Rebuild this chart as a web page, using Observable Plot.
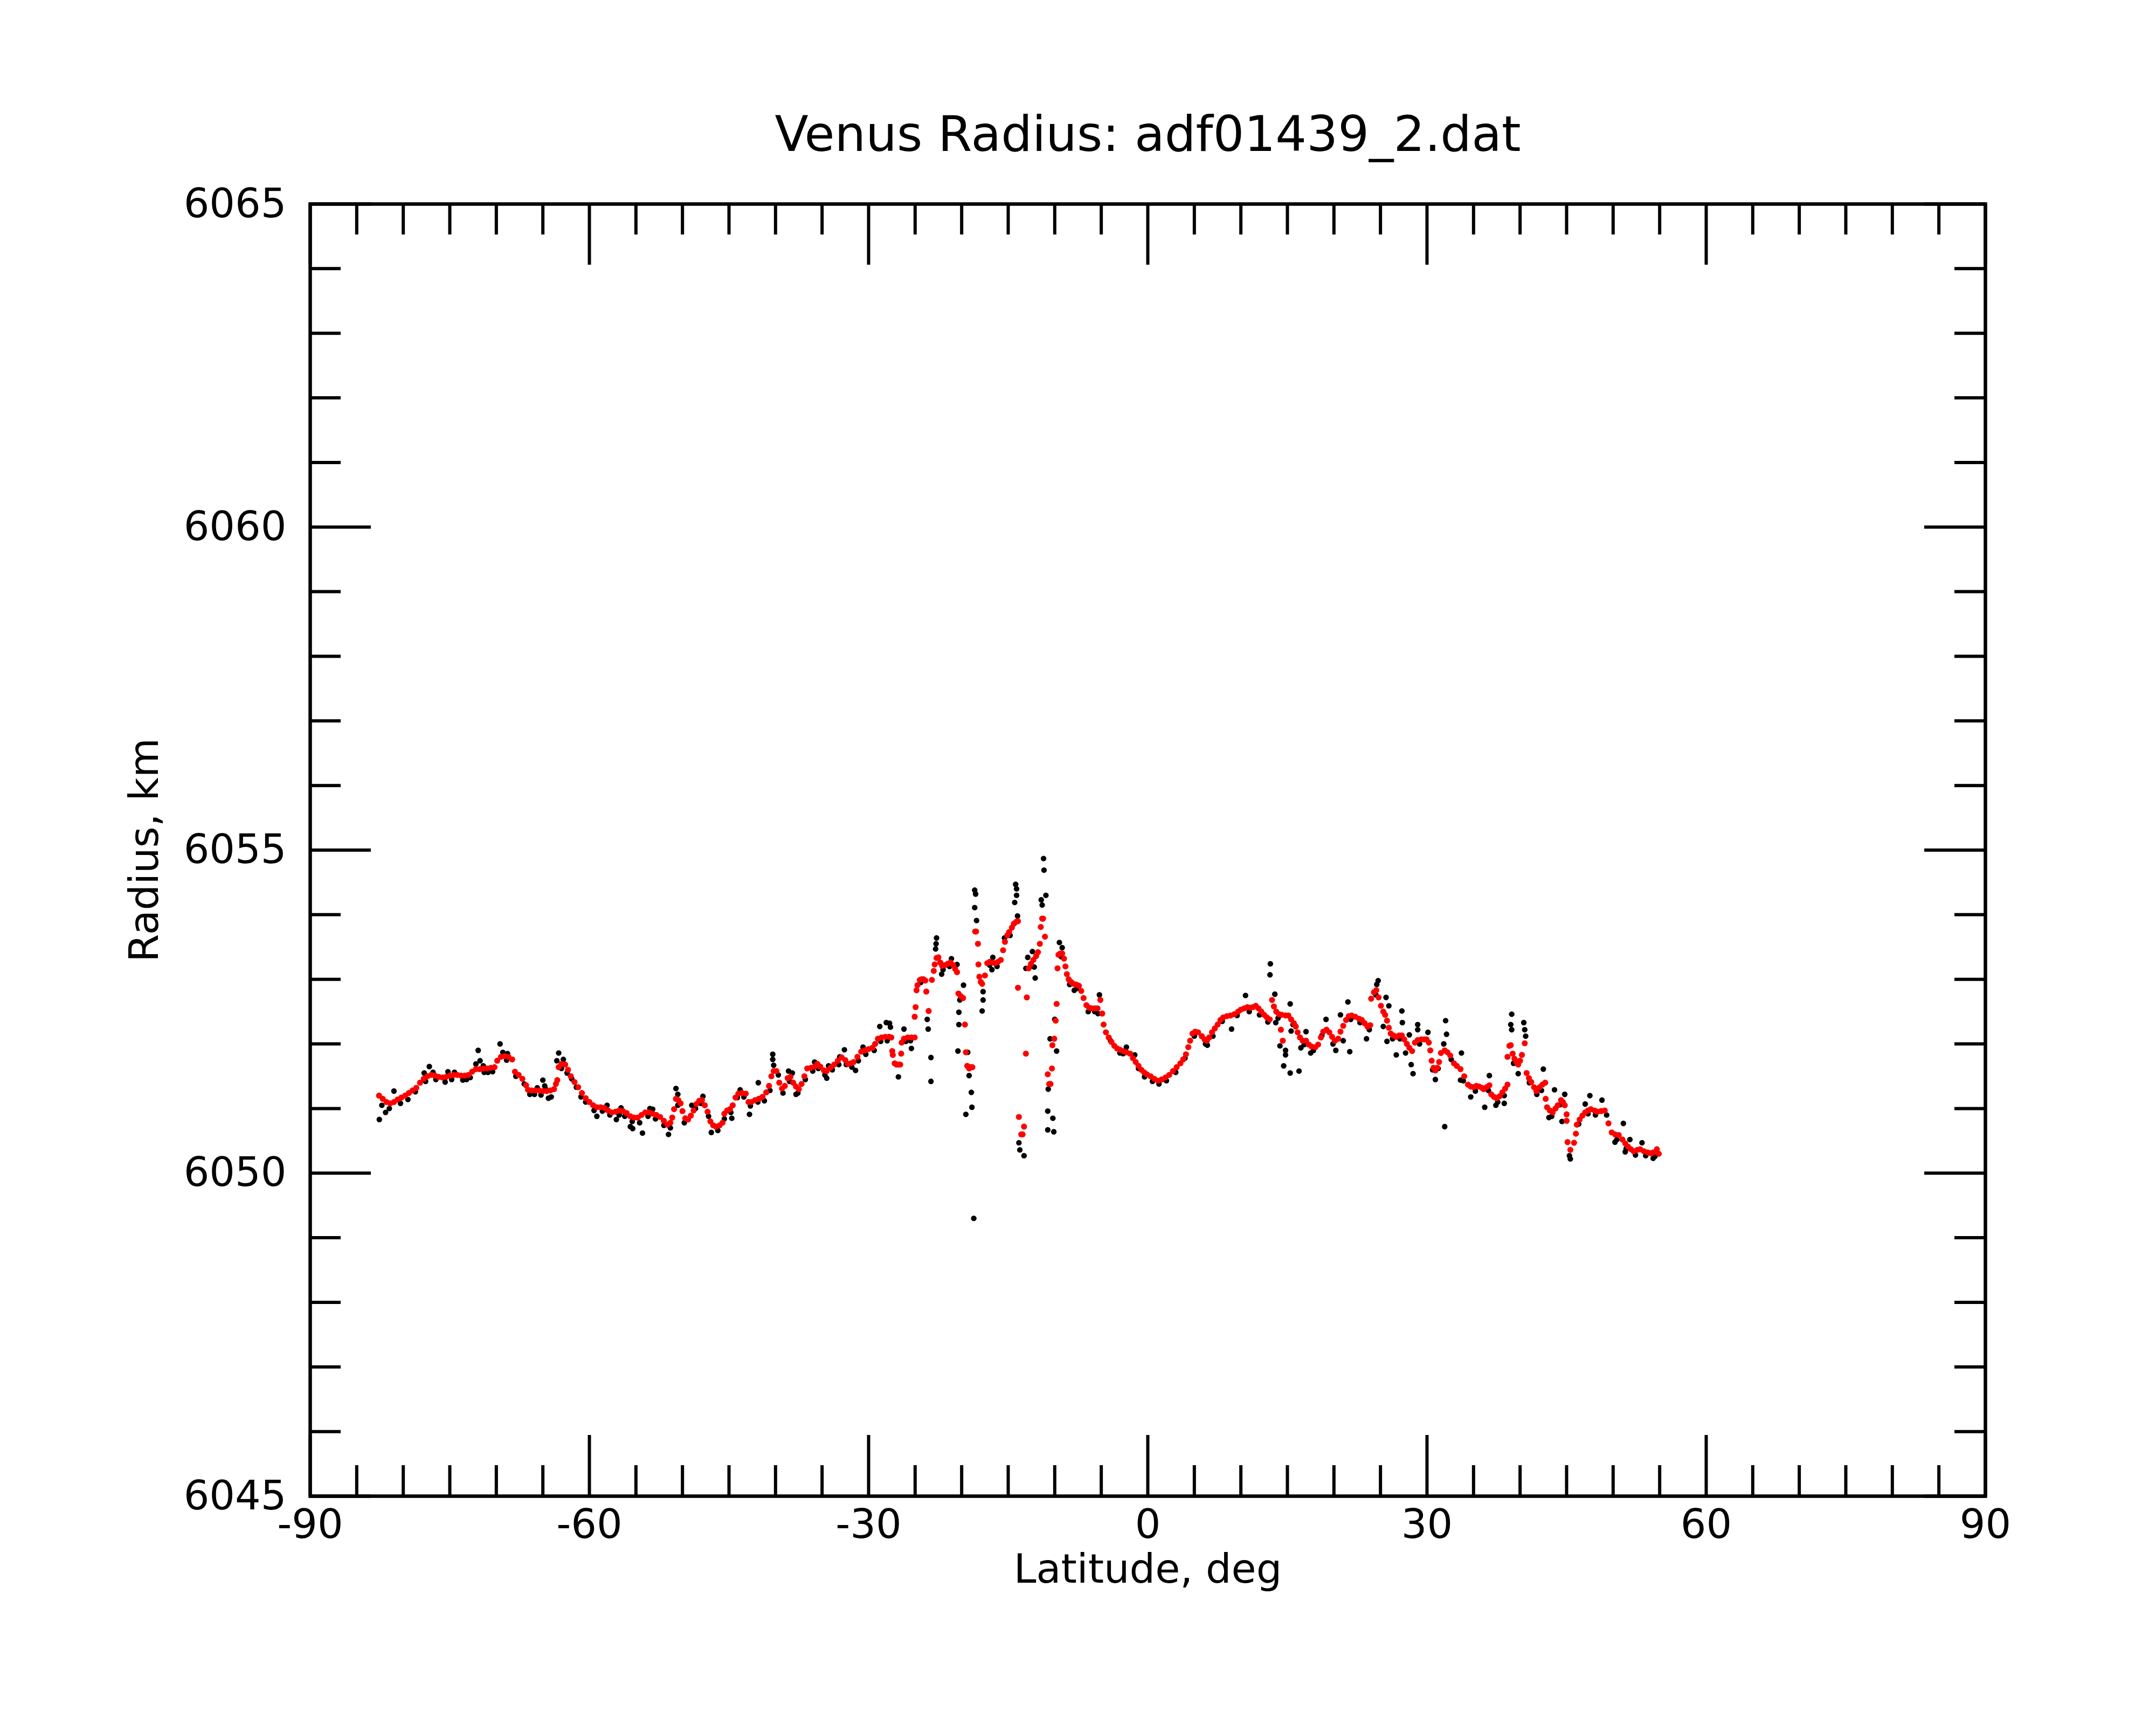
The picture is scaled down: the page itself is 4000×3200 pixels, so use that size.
<!DOCTYPE html>
<html>
<head>
<meta charset="utf-8">
<script src="https://cdn.jsdelivr.net/npm/d3@7"></script>
<script src="https://cdn.jsdelivr.net/npm/@observablehq/plot@0.6"></script>
<style>
  html, body { margin: 0; padding: 0; background: #ffffff; }
  #chart { width: 4000px; height: 3200px; }
</style>
</head>
<body>
<div id="chart"></div>
<script>
// ---- Text ----
const titleText = "Venus Radius: adf01439_2.dat";
const xLabelText = "Latitude, deg";
const yLabelText = "Radius, km";

// ---- Ticks ----
const xMajorTicks = [-90, -60, -30, 0, 30, 60, 90];
const xMinorTicks = [-85, -80, -75, -70, -65, -55, -50, -45, -40, -35, -25, -20, -15, -10, -5, 5, 10, 15, 20, 25, 35, 40, 45, 50, 55, 65, 70, 75, 80, 85];
const yMajorTicks = [6045, 6050, 6055, 6060, 6065];
const yMinorTicks = [6046, 6047, 6048, 6049, 6051, 6052, 6053, 6054, 6056, 6057, 6058, 6059, 6061, 6062, 6063, 6064];

// ---- Smoothed profile (red), [latitude deg, radius km] ----
const redPoints = [
[-82.6,6051.20],[-82.2,6051.15],[-81.8,6051.10],[-81.4,6051.08],[-81.0,6051.10],[-80.6,6051.14],[-80.2,6051.17],[-79.8,6051.20],
[-79.4,6051.24],[-79.0,6051.28],[-78.6,6051.32],[-78.2,6051.40],[-77.8,6051.46],[-77.4,6051.50],[-77.0,6051.52],[-76.6,6051.51],
[-76.2,6051.49],[-75.8,6051.48],[-75.4,6051.49],[-75.0,6051.51],[-74.6,6051.52],[-74.2,6051.52],[-73.8,6051.51],[-73.4,6051.51],
[-73.0,6051.52],[-72.6,6051.57],[-72.2,6051.61],[-71.8,6051.61],[-71.4,6051.62],[-71.0,6051.62],[-70.6,6051.63],[-70.2,6051.64],
[-69.9,6051.74],[-69.5,6051.80],[-69.1,6051.81],[-68.7,6051.80],[-68.3,6051.76],[-68.0,6051.57],[-67.6,6051.52],[-67.2,6051.46],
[-66.8,6051.36],[-66.6,6051.29],[-66.2,6051.28],[-65.8,6051.28],[-65.4,6051.28],[-65.0,6051.27],[-64.6,6051.27],[-64.2,6051.28],
[-63.8,6051.30],[-63.6,6051.38],[-63.45,6051.44],[-63.3,6051.64],[-63.0,6051.69],[-62.6,6051.68],[-62.3,6051.60],[-62.0,6051.50],
[-61.6,6051.41],[-61.2,6051.33],[-60.8,6051.24],[-60.4,6051.16],[-60.0,6051.10],[-59.6,6051.05],[-59.2,6051.02],[-58.8,6051.02],
[-58.4,6051.01],[-58.0,6050.97],[-57.6,6050.94],[-57.2,6050.95],[-56.8,6050.97],[-56.4,6050.96],[-56.0,6050.93],[-55.6,6050.88],
[-55.2,6050.86],[-54.8,6050.86],[-54.4,6050.90],[-54.0,6050.94],[-53.6,6050.94],[-53.2,6050.92],[-52.8,6050.90],[-52.4,6050.87],
[-52.0,6050.81],[-51.6,6050.75],[-51.3,6050.78],[-51.1,6050.86],[-50.9,6050.99],[-50.7,6051.15],[-50.45,6051.13],[-50.2,6051.08],
[-50.0,6050.96],[-49.7,6050.85],[-49.4,6050.83],[-49.1,6050.89],[-48.8,6050.97],[-48.5,6051.07],[-48.2,6051.12],[-47.9,6051.13],
[-47.6,6051.05],[-47.3,6050.95],[-47.0,6050.80],[-46.7,6050.74],[-46.4,6050.72],[-46.0,6050.74],[-45.7,6050.78],[-45.5,6050.92],
[-45.2,6050.97],[-44.9,6050.99],[-44.6,6051.05],[-44.3,6051.17],[-44.0,6051.23],[-43.6,6051.24],[-43.2,6051.23],[-42.9,6051.10],
[-42.6,6051.10],[-42.2,6051.13],[-41.8,6051.15],[-41.4,6051.18],[-41.0,6051.25],[-40.7,6051.35],[-40.45,6051.50],[-40.2,6051.58],
[-39.9,6051.58],[-39.6,6051.40],[-39.3,6051.31],[-39.0,6051.35],[-38.7,6051.47],[-38.4,6051.49],[-38.1,6051.40],[-37.8,6051.34],
[-37.5,6051.30],[-37.2,6051.38],[-36.9,6051.50],[-36.6,6051.62],[-36.2,6051.63],[-35.8,6051.65],[-35.5,6051.69],[-35.2,6051.65],
[-34.8,6051.59],[-34.5,6051.58],[-34.1,6051.63],[-33.7,6051.68],[-33.3,6051.74],[-32.9,6051.79],[-32.5,6051.75],[-32.2,6051.69],
[-31.9,6051.70],[-31.6,6051.72],[-31.2,6051.80],[-30.8,6051.88],[-30.4,6051.90],[-30.0,6051.92],[-29.6,6051.94],[-29.3,6052.00],
[-29.0,6052.08],[-28.6,6052.10],[-28.2,6052.11],[-27.8,6052.11],
[-27.56,6052.10],[-27.46,6051.89],[-27.4,6051.83],[-27.2,6051.70],[-27.0,6051.68],[-26.8,6051.68],[-26.6,6051.68],[-26.5,6051.85],
[-26.45,6052.02],[-26.2,6052.08],[-25.8,6052.10],[-25.4,6052.10],[-25.05,6052.10],[-25.05,6052.42],[-24.95,6052.57],[-24.85,6052.83],
[-24.75,6052.91],[-24.5,6052.99],[-24.3,6053.00],[-24.1,6053.00],[-23.9,6052.98],[-23.8,6052.81],[-23.55,6052.51],[-23.2,6052.99],
[-23.0,6053.13],[-22.9,6053.23],[-22.7,6053.33],[-22.5,6053.34],[-22.3,6053.26],[-22.1,6053.21],[-21.8,6053.22],[-21.5,6053.24],
[-21.2,6053.26],[-20.9,6053.22],[-20.7,6053.16],[-20.5,6053.11],[-20.35,6052.78],[-20.1,6052.74],[-19.85,6052.71],[-19.65,6052.30],
[-19.55,6051.87],[-19.4,6051.66],[-19.2,6051.62],[-19.0,6051.64],[-18.85,6051.64],[-18.55,6053.74],[-18.45,6053.74],[-18.25,6053.55],
[-18.2,6053.23],[-18.1,6053.04],[-17.95,6052.96],[-17.8,6052.93],[-17.5,6053.06],[-17.25,6053.25],[-17.0,6053.27],[-16.7,6053.26],
[-16.4,6053.25],[-16.1,6053.27],[-15.8,6053.30],[-15.55,6053.45],[-15.35,6053.58],[-15.1,6053.68],[-14.9,6053.73],[-14.6,6053.80],
[-14.4,6053.86],[-14.15,6053.89],[-13.95,6053.90],[-13.95,6052.87],[-13.85,6050.87],[-13.6,6050.60],[-13.45,6050.60],[-13.3,6050.72],
[-13.1,6051.85],[-13.0,6052.72],[-12.8,6053.17],[-12.55,6053.24],[-12.3,6053.30],[-12.0,6053.36],[-11.8,6053.42],[-11.6,6053.55],
[-11.5,6053.81],[-11.35,6053.94],[-11.25,6053.94],[-11.05,6053.66],[-10.75,6051.53],[-10.6,6051.38],[-10.45,6051.38],[-10.3,6051.62],
[-10.25,6051.98],[-10.05,6052.08],[-9.9,6052.36],[-9.8,6052.62],[-9.7,6053.17],[-9.6,6053.38],[-9.4,6053.40],[-9.2,6053.40],
[-9.0,6053.32],[-8.85,6053.20],[-8.7,6053.08],[-8.5,6053.00],[-8.25,6052.96],[-8.0,6052.93],[-7.7,6052.92],[-7.4,6052.90],
[-7.15,6052.82],[-6.9,6052.71],[-6.6,6052.60],[-6.3,6052.56],[-6.0,6052.55],[-5.7,6052.55],[-5.4,6052.55],[-5.1,6052.68],
[-4.9,6052.47],[-4.75,6052.30],[-4.5,6052.18],[-4.2,6052.10],[-3.9,6052.03],[-3.6,6051.97],[-3.3,6051.93],[-3.0,6051.91],
[-2.65,6051.89],[-2.3,6051.87],[-1.9,6051.85],[-1.6,6051.78],[-1.3,6051.72],[-1.0,6051.66],[-0.7,6051.60],[-0.4,6051.56],
[-0.1,6051.53],[0.3,6051.50],[0.7,6051.46],[1.1,6051.43],[1.5,6051.45],[1.9,6051.48],[2.3,6051.52],[2.7,6051.58],
[3.1,6051.64],[3.5,6051.70],[3.8,6051.76],[4.1,6051.84],[4.35,6051.95],[4.55,6052.05],[4.8,6052.16],[5.1,6052.19],
[5.4,6052.18],[5.8,6052.12],[6.1,6052.07],[6.35,6052.05],[6.6,6052.10],[6.9,6052.18],[7.2,6052.24],[7.5,6052.30],
[7.8,6052.37],[8.1,6052.41],[8.5,6052.43],[8.9,6052.44],[9.3,6052.46],[9.7,6052.50],[10.0,6052.53],[10.35,6052.55],
[10.7,6052.57],[11.0,6052.56],[11.3,6052.57],[11.6,6052.59],[11.9,6052.55],[12.2,6052.50],[12.5,6052.45],[12.8,6052.41],
[13.1,6052.38],[13.35,6052.68],[13.55,6052.58],[13.8,6052.50],[14.1,6052.46],[14.4,6052.45],[14.8,6052.44],[15.1,6052.44],
[15.4,6052.38],[14.3,6052.22],[14.5,6052.05],[15.7,6052.32],[15.9,6052.27],[16.1,6052.18],[16.35,6052.10],[16.65,6052.05],
[17.0,6052.05],[17.3,6051.99],[17.6,6051.96],[18.0,6051.95],[18.3,6051.99],[18.6,6052.10],[18.85,6052.19],[19.2,6052.22],
[19.5,6052.18],[19.8,6052.11],[20.1,6052.05],[20.45,6052.08],[20.7,6052.19],[21.0,6052.28],[21.3,6052.37],[21.6,6052.43],
[21.9,6052.44],[22.3,6052.42],[22.7,6052.39],[23.0,6052.37],[23.3,6052.32],[23.6,6052.27],[23.9,6052.29],[24.0,6052.70],
[24.3,6052.80],[24.55,6052.83],[24.8,6052.72],[25.05,6052.59],[25.3,6052.50],[25.5,6052.45],[25.7,6052.36],[25.9,6052.25],
[26.1,6052.16],[26.4,6052.13],[26.7,6052.11],[27.0,6052.13],[27.3,6052.13],[27.55,6052.07],[27.84,6052.00],
[28.1,6051.94],[28.4,6051.89],[28.7,6052.02],[29.0,6052.06],[29.4,6052.07],[29.7,6052.07],[29.95,6052.07],[30.2,6052.02],
[30.35,6051.90],[30.5,6051.74],[30.7,6051.63],[30.9,6051.59],[31.1,6051.63],[31.3,6051.72],[31.5,6051.86],[31.9,6051.90],
[32.2,6051.87],[32.5,6051.82],[32.9,6051.70],[33.2,6051.66],[33.6,6051.61],[34.0,6051.50],[34.4,6051.37],[34.7,6051.34],
[35.0,6051.33],[35.3,6051.35],[35.6,6051.34],[35.9,6051.32],[36.1,6051.30],[36.4,6051.33],[36.7,6051.36],[36.9,6051.22],
[37.2,6051.18],[37.5,6051.16],[37.8,6051.19],[38.1,6051.25],[38.4,6051.31],[38.65,6051.37],[38.65,6051.80],[38.85,6051.97],
[39.0,6051.98],[39.2,6051.85],[39.4,6051.77],[39.6,6051.72],[39.8,6051.68],[40.0,6051.74],[40.2,6051.83],[40.5,6052.01],
[40.7,6051.55],[40.95,6051.47],[41.2,6051.41],[41.5,6051.33],[41.75,6051.27],[42.1,6051.33],[42.4,6051.37],[42.7,6051.40],
[42.75,6051.15],[42.9,6051.02],[43.2,6050.97],[43.5,6050.94],[43.8,6051.00],[44.05,6051.05],[44.4,6051.13],[44.6,6051.10],
[44.8,6051.05],[45.0,6050.91],[45.0,6050.81],[45.1,6050.48],[45.4,6050.36],[45.8,6050.47],[46.0,6050.61],[46.1,6050.75],
[46.4,6050.83],[46.7,6050.89],[47.0,6050.94],[47.3,6050.97],[47.6,6050.99],[48.0,6050.97],[48.3,6050.95],[48.7,6050.96],
[49.1,6050.97],[49.5,6050.77],[49.85,6050.63],[50.2,6050.60],[50.6,6050.59],[51.0,6050.52],[51.3,6050.46],[51.6,6050.41],
[51.9,6050.37],[52.2,6050.34],[52.6,6050.36],[52.9,6050.37],[53.3,6050.34],[53.7,6050.32],[54.0,6050.31],[54.3,6050.32],
[54.7,6050.37],[54.9,6050.30]
];

// ---- Raw measurements (black), [latitude deg, radius km] ----
const blackPoints = [
[-82.3,6051.05],[-81.5,6051.00],[-80.3,6051.08],[-79.5,6051.14],[-78.7,6051.26],[-77.6,6051.42],[-76.5,6051.45],[-75.5,6051.41],
[-74.8,6051.45],[-73.6,6051.44],[-72.8,6051.48],[-71.3,6051.56],[-70.4,6051.57],[-68.9,6051.75],[-67.9,6051.50],[-67.0,6051.38],
[-65.9,6051.22],[-65.2,6051.21],[-64.7,6051.30],[-64.1,6051.18],[-63.0,6051.62],[-62.4,6051.55],[-61.4,6051.33],[-60.4,6051.10],
[-59.5,6050.97],[-58.6,6050.96],[-57.8,6050.90],[-56.8,6050.90],[-56.2,6050.88],[-55.4,6050.80],
[-77.75,6051.55],[-76.8,6051.56],[-75.2,6051.57],[-74.5,6051.56],[-73.2,6051.45],[-71.4,6051.66],[-70.9,6051.56],[-66.4,6051.22],
[-65.6,6051.32],[-61.9,6051.46],[-60.9,6051.18],[-58.1,6051.05],[-56.6,6051.01],
[-54.6,6050.78],[-53.7,6050.88],[-52.9,6050.84],[-52.0,6050.74],[-51.3,6050.70],[-50.5,6051.05],[-49.8,6050.78],[-48.6,6051.00],
[-48.0,6051.08],[-47.2,6050.88],[-46.2,6050.66],[-45.5,6050.84],[-44.8,6050.94],[-44.1,6051.17],[-43.4,6051.18],[-42.7,6051.04],
[-41.9,6051.10],[-41.2,6051.12],[-40.6,6051.28],[-39.7,6051.52],[-39.2,6051.24],[-38.5,6051.42],[-37.6,6051.24],[-36.8,6051.45],
[-36.0,6051.58],[-35.4,6051.62],[-34.7,6051.52],[-33.9,6051.60],[-33.2,6051.68],[-32.4,6051.68],[-31.8,6051.64],[-31.1,6051.74],
[-30.3,6051.84],[-29.4,6051.90],[-28.7,6052.04],[-28.0,6052.05],
[-53.2,6050.99],[-47.8,6051.19],[-43.8,6051.29],[-38.2,6051.55],[-35.8,6051.72],[-34.3,6051.66],[-33.1,6051.80],[-30.6,6051.95],
[-26.0,6052.04],[-25.5,6052.05],[-24.4,6052.95],[-22.0,6053.15],[-21.3,6053.20],[-17.0,6053.22],[-16.2,6053.20],[-14.8,6053.68],
[-12.6,6053.20],[-9.3,6053.35],[-8.4,6052.92],[-7.6,6052.86],[-6.4,6052.50],[-5.7,6052.50],[-4.0,6052.05],[-3.0,6051.86],[-1.0,6051.62],
[0.5,6051.42],[1.2,6051.38],[2.0,6051.43],[3.0,6051.56],[4.0,6051.78],[5.0,6052.12],[6.2,6052.00],[7.0,6052.12],[8.0,6052.35],
[9.6,6052.44],[10.9,6052.50],[12.0,6052.45],[12.9,6052.34],[14.0,6052.40],[15.6,6052.30],[16.8,6051.99],[17.8,6051.90],[18.7,6052.13],
[19.9,6052.00],[21.8,6052.38],[22.8,6052.33],[23.8,6052.22],[24.5,6052.76],[26.3,6052.08],[27.1,6052.08],
[29.2,6052.00],[30.6,6051.60],[31.2,6051.62],[32.6,6051.76],[33.9,6051.43],[35.2,6051.27],[36.6,6051.28],[37.6,6051.10],[38.3,6051.20],
[39.3,6051.70],[41.0,6051.40],[41.8,6051.22],[42.3,6051.28],[43.4,6050.88],[44.3,6051.06],[46.3,6050.76],[47.3,6050.92],[48.1,6050.90],
[49.3,6050.90],[50.4,6050.52],[51.4,6050.38],[52.4,6050.28],[53.5,6050.27],[54.5,6050.26],
[-82.57,6050.83],[-81.9,6050.94],[-81.0,6051.27],[-77.2,6051.65],[-71.95,6051.90],[-71.75,6051.74],[-72.2,6051.69],[-69.6,6052.00],
[-69.3,6051.87],[-68.8,6051.85],[-63.3,6051.86],[-63.5,6051.74],[-62.8,6051.76],[-64.4,6051.16],[-65.0,6051.44],[-64.8,6051.35],
[-59.2,6050.88],[-57.1,6050.83],[-55.6,6050.72],
[-50.7,6051.31],[-50.5,6051.22],[-40.3,6051.84],[-40.3,6051.76],[-40.2,6051.67],[-41.85,6051.40],[-42.8,6050.91],[-51.5,6050.60],
[-54.3,6050.62],[-46.9,6050.63],[-38.6,6051.58],[-32.6,6051.91],[-28.8,6052.27],[-28.1,6052.33],[-31.4,6051.59],[-34.5,6051.47],
[-37.8,6051.22],[-44.7,6050.85],[-55.35,6050.69],[-53.5,6051.00],[-49.0,6051.05],
[-27.75,6052.32],[-27.65,6052.26],[-26.8,6051.49],[-25.4,6051.93],[-26.2,6052.23],[-23.3,6051.42],[-23.3,6051.79],[-23.6,6052.23],
[-23.7,6052.38],[-22.8,6053.47],[-22.7,6053.64],[-22.75,6053.55],[-22.15,6053.08],[-21.1,6053.32],[-20.5,6053.23],[-19.8,6052.91],
[-20.2,6052.68],[-20.3,6052.49],[-20.3,6052.30],[-20.4,6051.89],[-19.35,6051.87],[-19.2,6051.51],[-18.96,6051.25],[-18.9,6051.02],
[-19.55,6050.91],[-18.7,6049.30],[-18.6,6054.38],[-18.5,6054.32],[-18.6,6054.11],[-18.4,6053.91],[-17.7,6052.81],[-17.7,6052.68],
[-17.8,6052.51],[-16.75,6053.15],[-16.65,6053.34],[-15.4,6053.64],[-14.2,6054.47],[-14.1,6054.40],[-14.1,6054.30],[-14.3,6054.19],
[-14.0,6053.98],[-13.85,6050.47],[-13.75,6050.36],[-13.3,6050.27],[-12.9,6053.34],[-12.4,6053.43],[-13.1,6053.17],[-12.2,6053.19],
[-12.1,6053.02],[-11.45,6054.23],[-11.35,6054.15],[-11.2,6054.87],[-11.15,6054.69],[-10.95,6054.30],[-10.7,6051.30],[-10.75,6050.96],
[-10.75,6050.67],[-10.2,6050.85],[-10.1,6050.64],[-10.5,6052.08],[-9.8,6051.89],[-10.0,6052.38],[-9.5,6053.57],[-9.2,6053.49],
[-7.9,6052.83],[-5.2,6052.76],[-5.35,6052.47],[-2.65,6051.85],[-2.3,6051.95],[-1.4,6051.83],[-0.35,6051.49],
[13.17,6053.24],[13.13,6053.07],[13.65,6052.77],[10.5,6052.75],[9.0,6052.23],[6.4,6051.98],[15.3,6052.62],[13.75,6052.33],
[14.2,6051.97],[14.8,6051.90],[14.8,6051.83],[14.6,6051.66],[15.3,6051.55],[16.25,6051.58],[15.4,6052.20],[16.45,6051.94],
[17.0,6052.19],[17.5,6051.86],[19.15,6052.38],[20.2,6051.90],[20.7,6052.45],[21.5,6052.65],[21.7,6051.88],[21.0,6052.05],
[23.5,6052.08],[24.75,6052.98],[24.6,6052.92],[25.6,6052.72],[25.9,6052.59],[25.3,6052.27],[25.7,6052.04],[27.3,6052.51],
[27.35,6052.33],[26.7,6051.83],[27.7,6051.86],
[28.1,6052.14],[29.0,6052.30],[29.0,6052.22],[30.1,6052.18],[28.3,6051.68],[28.5,6051.54],[32.0,6052.36],[32.1,6052.15],
[31.9,6050.72],[31.8,6052.00],[30.9,6051.45],[33.7,6051.86],[33.6,6051.44],[34.7,6051.18],[36.2,6051.02],[36.7,6051.51],
[37.4,6051.05],[38.3,6051.08],[39.1,6052.46],[39.0,6052.30],[39.1,6052.22],[40.4,6052.33],[40.5,6052.22],[40.6,6052.12],
[39.8,6051.54],[42.5,6051.61],[43.7,6051.29],[44.8,6051.22],[43.1,6050.86],[44.5,6050.80],[45.4,6050.22],[45.3,6050.27],
[47.5,6051.20],[48.8,6051.13],[47.0,6051.07],[50.2,6050.48],[51.1,6050.77],[51.8,6050.52],[53.1,6050.47],[51.3,6050.33],[54.3,6050.23]
];

// ---- Chart ----
const W = 4000, H = 3200;
const mL = 575, mR = 317, mT = 378, mB = 425;
const frameW = W - mL - mR, frameH = H - mT - mB;
const majorLen = 113, minorLen = 57;
const tickW = 6;

const chart = Plot.plot({
  width: W,
  height: H,
  marginLeft: mL,
  marginRight: mR,
  marginTop: mT,
  marginBottom: mB,
  style: { fontFamily: "DejaVu Sans", fontSize: "75px", background: "#ffffff", color: "#000000" },
  x: { domain: [-90, 90] },
  y: { domain: [6045, 6065] },
  marks: [
    Plot.dot(blackPoints, { x: d => d[0], y: d => d[1], r: 5.2, fill: "#000000", stroke: "none" }),
    Plot.dot(redPoints, { x: d => d[0], y: d => d[1], r: 5.6, fill: "#ff0000", stroke: "none" }),
    // inward ticks: bottom & top
    Plot.tickX(xMajorTicks, { x: d => d, insetTop: frameH - majorLen, stroke: "#000", strokeWidth: tickW }),
    Plot.tickX(xMinorTicks, { x: d => d, insetTop: frameH - minorLen, stroke: "#000", strokeWidth: tickW }),
    Plot.tickX(xMajorTicks, { x: d => d, insetBottom: frameH - majorLen, stroke: "#000", strokeWidth: tickW }),
    Plot.tickX(xMinorTicks, { x: d => d, insetBottom: frameH - minorLen, stroke: "#000", strokeWidth: tickW }),
    // inward ticks: left & right
    Plot.tickY(yMajorTicks, { y: d => d, insetRight: frameW - majorLen, stroke: "#000", strokeWidth: tickW }),
    Plot.tickY(yMinorTicks, { y: d => d, insetRight: frameW - minorLen, stroke: "#000", strokeWidth: tickW }),
    Plot.tickY(yMajorTicks, { y: d => d, insetLeft: frameW - majorLen, stroke: "#000", strokeWidth: tickW }),
    Plot.tickY(yMinorTicks, { y: d => d, insetLeft: frameW - minorLen, stroke: "#000", strokeWidth: tickW }),
    Plot.frame({ stroke: "#000", strokeWidth: 6.5 }),
    Plot.axisX({ anchor: "bottom", ticks: xMajorTicks, tickSize: 0, tickPadding: 24, tickFormat: d => String(d), fontSize: 75, label: null }),
    Plot.axisY({ anchor: "left", ticks: yMajorTicks, tickSize: 0, tickPadding: 44, tickFormat: d => String(d), fontSize: 75, label: null }),
    Plot.text([titleText], { text: d => d, frameAnchor: "top", lineAnchor: "middle", textAnchor: "middle", dy: -128, fontSize: 91, fill: "#000" }),
    Plot.text([xLabelText], { text: d => d, frameAnchor: "bottom", lineAnchor: "middle", textAnchor: "middle", dy: 136, fontSize: 75, fill: "#000" }),
    Plot.text([yLabelText], { text: d => d, frameAnchor: "left", lineAnchor: "middle", textAnchor: "middle", dx: -307, rotate: -90, fontSize: 75, fill: "#000" })
  ]
});
document.getElementById("chart").appendChild(chart);
</script>
</body>
</html>
